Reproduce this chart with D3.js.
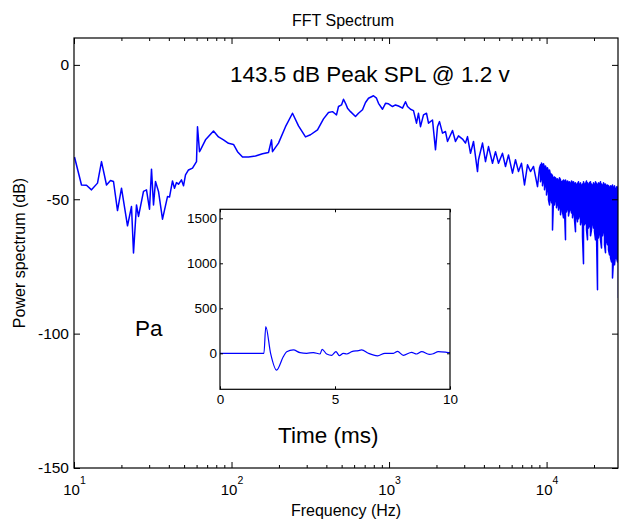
<!DOCTYPE html>
<html>
<head>
<meta charset="utf-8">
<script src="https://cdn.jsdelivr.net/npm/d3@7"></script>
<style>
  body { margin: 0; background: #fff; }
  svg { display: block; font-family: "Liberation Sans", Arial, sans-serif; }
</style>
</head>
<body>
<div id="chart"></div>
<script>
// Spectrum samples (frequency in Hz, power in dB)
const freqHz = [
  10, 11.1, 12.0, 12.9, 13.9, 14.8, 16.0, 16.9, 17.8, 18.7, 19.8, 21.6, 23.0, 23.8, 24.7, 25.6,
  27.3, 28.6, 29.8, 30.8, 31.9, 32.7, 34.3, 36.2, 38.7, 40.2, 41.7, 43.1, 44.4, 45.9, 47.7, 49.4,
  50.6, 53.1, 55.8, 59.4, 60.6, 61.8, 63.3,
  67.8, 76.5, 82.3, 88.6, 95.3, 102.5, 107.7, 115.9, 127.6, 140.8, 155.2, 171.0, 177.1, 179.7,
  197.9, 218.2, 240.6, 265.0, 292.2, 314.4, 346.7, 381.9, 410.8, 431.7, 446.4, 459.6, 475.3,
  492.3, 507.0, 524.4, 542.3, 564.1, 606.7, 636.7, 669.1, 702.3, 736.9, 785.7, 824.5, 852.7,
  896.2, 940.4, 986.9, 1037, 1088, 1142, 1200, 1260, 1291, 1355, 1422, 1480, 1530, 1569, 1646,
  1712, 1771, 1861, 1953, 2002, 2080,
  2153, 2260, 2337, 2493, 2616, 2745, 2885, 3027, 3131, 3256, 3417, 3592, 3677, 3864, 4055, 4255,
  4472, 4692, 4923, 5174, 5430, 5697, 5988, 6284, 6596, 6929, 7167, 7456, 7824, 8209, 8629, 8966
];
const powerDb = [
  -34.3, -44.7, -44.8, -46.5, -44.0, -36.0, -44.7, -43.0, -43.4, -54.2, -45.9, -59.9, -52.7, -70.0, -52.1, -56.4,
  -47.1, -46.5, -53.7, -38.8, -52.1, -43.4, -47.1, -57.4, -49.0, -49.2, -43.2, -45.9, -43.8, -44.4, -42.8, -45.0,
  -40.9, -39.1, -38.4, -36.0, -23.0, -32.3, -31.6,
  -27.9, -24.6, -26.8, -27.9, -29.2, -29.6, -32.3, -34.3, -34.3, -33.9, -33.1, -32.6, -27.9, -32.3,
  -29.1, -23.0, -18.0, -22.7, -26.8, -26.0, -24.2, -20.1, -17.7, -17.4, -18.0, -18.6, -15.5,
  -14.9, -12.8, -14.3, -16.1, -17.4, -19.2, -18.0, -16.7, -14.0, -12.4, -11.5, -12.4, -14.3,
  -16.5, -14.3, -14.5, -15.5, -14.9, -15.3, -16.1, -13.7, -15.5, -16.5, -17.0, -21.7, -18.0, -23.0, -18.6,
  -18.0, -21.7, -20.5, -31.6, -23.0, -21.1,
  -25.4, -24.8, -28.5, -24.4, -28.5, -26.4, -27.6, -29.1, -26.7, -32.9, -28.5, -39.7, -35.3, -29.1, -36.0, -30.4,
  -36.6, -32.3, -36.6, -32.9, -37.8, -33.5, -40.3, -35.3, -39.7, -36.6, -44.7, -37.2, -39.7, -37.8, -45.3, -38.4
];

// Dense tail above ~9 kHz: highest and lowest value seen in each frequency bin
const hfFreqHz = [
  9058, 9191, 9327, 9464, 9603, 9745, 9888, 10034, 10181, 10331, 10483, 10637, 10794, 10953,
  11114, 11278, 11444, 11612, 11783, 11957, 12133, 12312, 12493, 12677, 12863, 13053, 13245,
  13440, 13638, 13838, 14042, 14249, 14459, 14671, 14887, 15106, 15329, 15554, 15783, 16016,
  16251, 16491, 16733, 16980, 17230, 17483, 17741, 18002, 18267, 18536, 18809, 19086, 19367,
  19652, 19941, 20235, 20533, 20835, 21142, 21453, 21769, 22089, 22414, 22744, 23079, 23419,
  23764, 24114, 24469, 24829, 25194, 25565, 25941, 26323, 26711, 27104, 27503, 27908, 28319
];
const hfUpperDb = [
  -37.2, -36.5, -37.6, -36.8, -38.3, -37.6, -39.1, -38.3,
  -39.8, -39.1, -40.9, -40.6, -41.3, -42.0, -41.7, -42.0,
  -42.8, -42.4, -43.2, -42.0, -42.8, -43.5, -43.2, -42.8,
  -43.5, -42.8, -44.3, -43.2, -43.9, -43.5, -44.3, -43.2,
  -43.9, -43.5, -44.7, -43.9, -45.0, -44.3, -43.5, -44.7,
  -43.9, -45.0, -44.3, -43.5, -44.7, -44.3, -43.2, -43.9,
  -44.7, -43.9, -43.5, -44.3, -45.0, -43.9, -44.7, -43.5,
  -44.3, -45.0, -43.9, -44.7, -43.5, -44.3, -45.0, -43.9,
  -44.7, -44.3, -45.4, -44.7, -45.0, -45.8, -45.0, -45.4,
  -44.7, -45.8, -45.0, -46.5, -45.4, -45.8, -45.0
];
const hfLowerDb = [
  -43.5, -42.0, -45.0, -42.8, -46.5, -44.3, -48.4, -45.8,
  -50.2, -52.1, -49.5, -51.3, -61.4, -50.2, -52.1, -49.5,
  -53.2, -51.3, -54.0, -52.5, -55.8, -52.1, -54.7, -56.9,
  -54.0, -65.1, -54.7, -53.2, -56.2, -54.0, -53.2, -55.1,
  -56.9, -54.7, -57.7, -62.1, -55.8, -58.4, -57.3, -55.8,
  -59.5, -57.7, -64.0, -74.0, -59.5, -58.4, -61.4, -65.1,
  -60.7, -59.5, -63.6, -61.4, -58.4, -60.7, -62.1, -65.1,
  -63.3, -83.7, -64.4, -62.1, -65.1, -68.1, -63.6, -61.4,
  -66.9, -69.9, -65.1, -66.9, -68.8, -70.7, -71.8, -73.3,
  -79.3, -72.6, -74.4, -70.7, -71.8, -73.3, -86.7
];

// Inset: pressure trace (time in ms, pressure in Pa)
const timeMs = [0, 1.91, 1.99, 2.20, 2.46, 2.75, 2.90, 3.19, 3.48, 3.77, 4.06, 4.35, 4.44, 4.64, 4.86,
  5.04, 5.19, 5.36, 5.51, 5.73, 6.01, 6.16, 6.45, 6.85, 7.17, 7.54, 7.72, 7.97, 8.33, 8.55, 8.77,
  9.10, 9.27, 9.49, 9.86, 10];
const pressurePa = [0, 0, 296, 0, -186, -38, 18, 37, 7, 0, 8, -8, 44, -8, -22,
  18, -26, 0, -8, 18, 30, 37, 0, -28, 0, 0, 22, -22, 11, -8, 18,
  -12, -5, 18, 11, 7];

const freqDecades = [10, 100, 1000, 10000];
const powerTicks = [0, -50, -100, -150];
const timeTicks = [0, 5, 10];
const pressureTicks = [0, 500, 1000, 1500];

const W = 622, H = 523;
const margin = { top: 38, right: 4, bottom: 55, left: 74 };
const width = W - margin.left - margin.right;
const height = H - margin.top - margin.bottom;

const svg = d3.select('#chart').append('svg')
  .attr('width', W)
  .attr('height', H);

const g = svg.append('g')
  .attr('transform', `translate(${margin.left},${margin.top})`);

// Scales
const x = d3.scaleLog().domain([10, 28400]).range([0, width]);
const y = d3.scaleLinear().domain([-150, 10]).range([height, 0]);

const minorTicks = freqDecades.flatMap(d => d3.range(2, 10).map(m => d * m)).filter(v => v <= 28400);

// Clip for the spectrum
svg.append('defs').append('clipPath').attr('id', 'plotClip')
  .append('rect').attr('width', width).attr('height', height);

// Spectrum line: sparse part, then each dense bin drawn as a column (serpentine)
const spectrum = freqHz.map((f, i) => ({ f, p: powerDb[i] }))
  .concat(hfFreqHz.flatMap((f, i) => i % 2 === 0
    ? [{ f, p: hfUpperDb[i] }, { f, p: hfLowerDb[i] }]
    : [{ f, p: hfLowerDb[i] }, { f, p: hfUpperDb[i] }]));

g.append('path')
  .datum(spectrum)
  .attr('clip-path', 'url(#plotClip)')
  .attr('fill', 'none')
  .attr('stroke', '#0000ff')
  .attr('stroke-width', 1.5)
  .attr('stroke-linejoin', 'round')
  .attr('d', d3.line().x(d => Math.round(x(d.f)) + 0.5).y(d => y(d.p)));

// Axes, ticks pointing inwards
const styleAxis = sel => {
  sel.select('.domain').remove();
  sel.selectAll('line').attr('stroke', '#000');
  sel.selectAll('text').attr('fill', '#000');
};
const plain = d => String(d);

g.append('g')
  .call(d3.axisLeft(y).tickValues(powerTicks).tickSize(-6).tickPadding(5).tickFormat(plain))
  .call(styleAxis)
  .selectAll('text').style('font-size', '15.5px');

g.append('g')
  .attr('transform', `translate(${width},0)`)
  .call(d3.axisRight(y).tickValues(powerTicks).tickSize(-6).tickFormat(''))
  .call(styleAxis);

const xBottom = g.append('g')
  .attr('transform', `translate(0,${height})`)
  .call(d3.axisBottom(x).tickValues(freqDecades).tickSize(-6))
  .call(styleAxis);

xBottom.selectAll('.tick text').each(function (d) {
  const t = d3.select(this).text('').attr('y', 27).attr('dy', null).style('font-size', '15px');
  t.append('tspan').text('10');
  t.append('tspan').attr('dy', -11).style('font-size', '10.5px').text(Math.round(Math.log10(d)));
});

g.append('g')
  .attr('transform', `translate(0,${height})`)
  .call(d3.axisBottom(x).tickValues(minorTicks).tickSize(-3).tickFormat(''))
  .call(styleAxis);

g.append('g')
  .call(d3.axisTop(x).tickValues(freqDecades).tickSize(-6).tickFormat(''))
  .call(styleAxis);

g.append('g')
  .call(d3.axisTop(x).tickValues(minorTicks).tickSize(-3).tickFormat(''))
  .call(styleAxis);

// Box
g.append('rect')
  .attr('width', width).attr('height', height)
  .attr('fill', 'none').attr('stroke', '#000').attr('stroke-width', 1.2);

// Labels
svg.append('text')
  .attr('x', margin.left + width / 2 - 3).attr('y', 26)
  .attr('text-anchor', 'middle').style('font-size', '16px')
  .text('FFT Spectrum');

svg.append('text')
  .attr('x', margin.left + width / 2).attr('y', 516)
  .attr('text-anchor', 'middle').style('font-size', '16px')
  .text('Frequency (Hz)');

svg.append('text')
  .attr('transform', `translate(25,${margin.top + height / 2}) rotate(-90)`)
  .attr('text-anchor', 'middle').style('font-size', '16px')
  .text('Power spectrum (dB)');

svg.append('text')
  .attr('x', 230).attr('y', 82)
  .style('font-size', '22.5px')
  .text('143.5 dB Peak SPL @ 1.2 v');

svg.append('text')
  .attr('x', 135).attr('y', 336)
  .style('font-size', '22.5px')
  .text('Pa');

svg.append('text')
  .attr('x', 278).attr('y', 443)
  .style('font-size', '22.5px')
  .text('Time (ms)');

// Inset
const inset = { left: 220, top: 209.3, width: 230, height: 180 };
const gi = svg.append('g')
  .attr('transform', `translate(${inset.left},${inset.top})`);

const xi = d3.scaleLinear().domain([0, 10]).range([0, inset.width]);
const yi = d3.scaleLinear().domain([-400, 1600]).range([inset.height, 0]);

gi.append('rect')
  .attr('width', inset.width).attr('height', inset.height)
  .attr('fill', '#fff');

const trace = timeMs.map((t, i) => ({ t, v: pressurePa[i] }));
gi.append('path')
  .datum(trace)
  .attr('fill', 'none')
  .attr('stroke', '#0000ff')
  .attr('stroke-width', 1.2)
  .attr('d', d3.line().x(d => xi(d.t)).y(d => yi(d.v)).curve(d3.curveMonotoneX));

gi.append('g')
  .call(d3.axisLeft(yi).tickValues(pressureTicks).tickSize(-3).tickPadding(3).tickFormat(plain))
  .call(styleAxis)
  .selectAll('text').style('font-size', '13.5px');

gi.append('g')
  .attr('transform', `translate(${inset.width},0)`)
  .call(d3.axisRight(yi).tickValues(pressureTicks).tickSize(-3).tickFormat(''))
  .call(styleAxis);

gi.append('g')
  .attr('transform', `translate(0,${inset.height})`)
  .call(d3.axisBottom(xi).tickValues(timeTicks).tickSize(-3).tickPadding(5).tickFormat(plain))
  .call(styleAxis)
  .selectAll('text').style('font-size', '13.5px');

gi.append('g')
  .call(d3.axisTop(xi).tickValues(timeTicks).tickSize(-3).tickFormat(''))
  .call(styleAxis);

gi.append('rect')
  .attr('width', inset.width).attr('height', inset.height)
  .attr('fill', 'none').attr('stroke', '#000').attr('stroke-width', 1.2);
</script>
</body>
</html>
